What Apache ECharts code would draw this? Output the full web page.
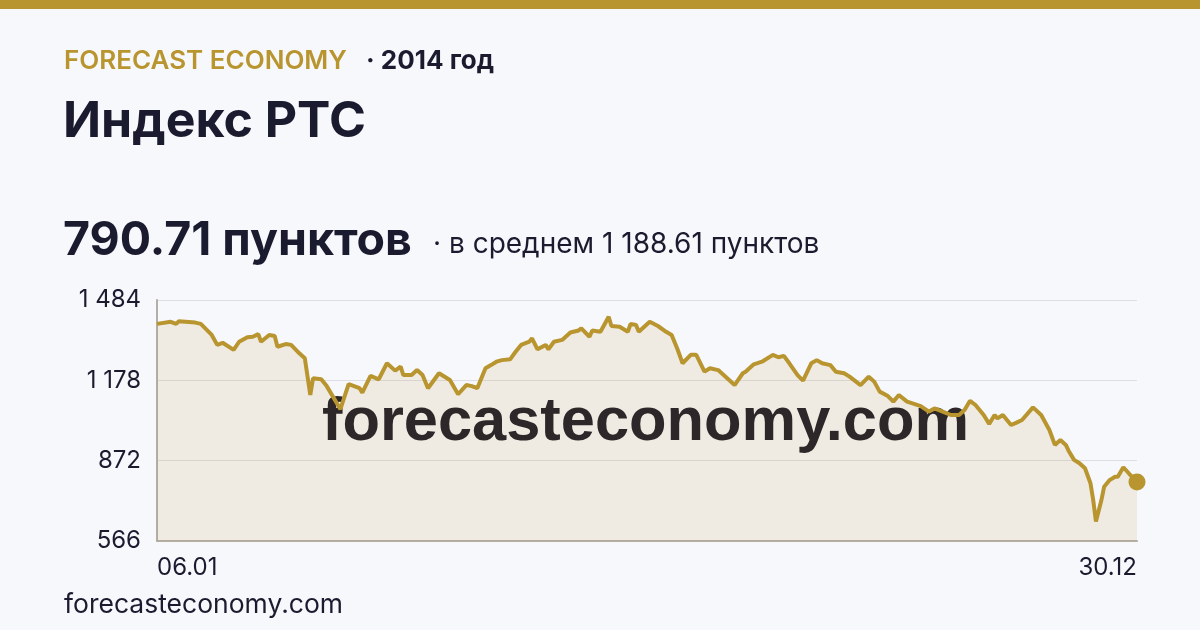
<!DOCTYPE html>
<html>
<head>
<meta charset="utf-8">
<script src="https://cdn.jsdelivr.net/npm/echarts@6/dist/echarts.min.js"></script>
<style>
  html, body { margin: 0; padding: 0; background: #f7f8fc; }
  #chart { width: 1200px; height: 630px; }
</style>
</head>
<body>
<div id="chart"></div>
<script>
const dates = [
  '2014-01-06','2014-01-11','2014-01-13','2014-01-14','2014-01-20','2014-01-22','2014-01-26','2014-01-28','2014-01-30',
  '2014-02-03','2014-02-05','2014-02-08','2014-02-10','2014-02-12','2014-02-13','2014-02-16','2014-02-18','2014-02-19',
  '2014-02-22','2014-02-24','2014-02-27','2014-03-01','2014-03-03','2014-03-04','2014-03-07','2014-03-09','2014-03-14',
  '2014-03-17','2014-03-21','2014-03-22','2014-03-25','2014-03-28','2014-03-31','2014-04-03','2014-04-05','2014-04-06',
  '2014-04-09','2014-04-11','2014-04-13','2014-04-15','2014-04-19','2014-04-23','2014-04-26','2014-04-29','2014-05-01',
  '2014-05-03','2014-05-06','2014-05-08','2014-05-10','2014-05-12','2014-05-15','2014-05-17','2014-05-19','2014-05-22',
  '2014-05-23','2014-05-25','2014-05-28','2014-05-29','2014-05-31','2014-06-03','2014-06-06','2014-06-09','2014-06-10',
  '2014-06-13','2014-06-14','2014-06-17','2014-06-19','2014-06-20','2014-06-21','2014-06-24','2014-06-27','2014-06-28',
  '2014-06-30','2014-07-01','2014-07-05','2014-07-08','2014-07-11','2014-07-13','2014-07-15','2014-07-17','2014-07-20',
  '2014-07-22','2014-07-25','2014-07-27','2014-07-30','2014-08-01','2014-08-05','2014-08-08','2014-08-09','2014-08-12',
  '2014-08-15','2014-08-19','2014-08-21','2014-08-23','2014-08-25','2014-08-28','2014-08-30','2014-09-02','2014-09-04',
  '2014-09-06','2014-09-09','2014-09-11','2014-09-14','2014-09-16','2014-09-20','2014-09-23','2014-09-25','2014-09-27',
  '2014-09-30','2014-10-02','2014-10-04','2014-10-07','2014-10-09','2014-10-12','2014-10-15','2014-10-17','2014-10-20',
  '2014-10-23','2014-10-26','2014-10-28','2014-10-30','2014-11-01','2014-11-04','2014-11-06','2014-11-08','2014-11-09',
  '2014-11-11','2014-11-14','2014-11-16','2014-11-18','2014-11-22','2014-11-25','2014-11-28','2014-11-30','2014-12-02',
  '2014-12-04','2014-12-05','2014-12-07','2014-12-09','2014-12-11','2014-12-13','2014-12-14','2014-12-15','2014-12-17',
  '2014-12-18','2014-12-20','2014-12-22','2014-12-23','2014-12-25','2014-12-27','2014-12-30'
];
const values = [
  1393,1401,1393,1403,1398,1393,1351,1313,1321,
  1294,1325,1342,1344,1354,1325,1351,1347,1306,
  1316,1313,1281,1262,1122,1186,1182,1156,1068,
  1164,1148,1131,1195,1182,1243,1215,1230,1198,
  1198,1217,1198,1148,1205,1179,1125,1160,1156,
  1148,1224,1236,1249,1255,1258,1287,1313,1325,
  1338,1296,1313,1296,1325,1332,1360,1368,1376,
  1344,1368,1363,1401,1420,1385,1382,1363,1393,
  1389,1363,1401,1385,1363,1351,1300,1243,1275,
  1275,1211,1224,1217,1198,1160,1205,1211,1239,
  1249,1275,1266,1271,1243,1198,1177,1243,1255,
  1243,1236,1211,1205,1192,1160,1192,1173,1135,
  1118,1097,1122,1097,1090,1080,1059,1071,1059,
  1046,1046,1065,1100,1084,1046,1012,1046,1033,
  1046,1008,1017,1027,1075,1046,989,932,951,
  932,910,875,862,843,786,722,640,722,
  773,798,811,811,847,824,790.71
];
const yTicks = [566, 872, 1178, 1484];
const xTickLabels = ['06.01', '30.12'];
const xTickDates = ['2014-01-06', '2014-12-30'];

const headerBrand = 'FORECAST ECONOMY';
const headerYear = '· 2014 год';
const titleText = 'Индекс РТС';
const lastText = '790.71 пунктов';
const avgText = '· в среднем 1 188.61 пунктов';
const siteText = 'forecasteconomy.com';

const GOLD = '#b8952e';
const DARK = '#1b1b2f';

function dayIndex(s) {
  const p = s.split('-').map(Number);
  return (Date.UTC(p[0], p[1] - 1, p[2]) - Date.UTC(2014, 0, 1)) / 864e5;
}
const xs = dates.map(dayIndex);
const seriesData = xs.map((x, i) => [x, values[i]]);
const tickXs = xTickDates.map(dayIndex);
const fmtNum = v => String(v).replace(/\B(?=(\d{3})+(?!\d))/g, ' ');

const chart = echarts.init(document.getElementById('chart'), null, { renderer: 'canvas' });
chart.setOption({
  backgroundColor: '#f7f8fc',
  animation: false,
  grid: { left: 157, right: 63, top: 300, bottom: 89, containLabel: false },
  xAxis: {
    type: 'value',
    min: tickXs[0],
    max: tickXs[1],
    axisLine: { show: true, lineStyle: { color: '#b3afa8', width: 2 } },
    axisTick: { show: false },
    splitLine: { show: false },
    axisLabel: {
      customValues: tickXs,
      formatter: v => xTickLabels[tickXs.indexOf(v)] || '',
      color: DARK, fontFamily: 'Inter', fontSize: 24, margin: 15,
      alignMinLabel: 'left', alignMaxLabel: 'right'
    }
  },
  yAxis: {
    type: 'value',
    min: yTicks[0],
    max: yTicks[yTicks.length - 1],
    interval: yTicks[1] - yTicks[0],
    axisLine: { show: true, lineStyle: { color: '#b3afa8', width: 2 } },
    axisTick: { show: false },
    splitLine: { show: true, lineStyle: { color: '#dedee4', width: 1 } },
    axisLabel: {
      formatter: v => fmtNum(v),
      color: DARK, fontFamily: 'Inter', fontSize: 24, margin: 16
    }
  },
  graphic: [
    { type: 'rect', left: 0, top: 0, shape: { width: 1200, height: 9 }, style: { fill: GOLD }, z: 10 },
    { type: 'text', x: 64, y: 61, z: 10, style: { text: headerBrand, fill: GOLD, font: '600 26px Inter', verticalAlign: 'middle' } },
    { type: 'text', x: 366, y: 61, z: 10, style: { text: headerYear, fill: DARK, font: '700 26px Inter', verticalAlign: 'middle' } },
    { type: 'text', x: 63, y: 122, z: 10, style: { text: titleText, fill: DARK, font: '700 50px Inter', verticalAlign: 'middle' } },
    { type: 'text', x: 63, y: 241, z: 10, style: { text: lastText, fill: DARK, font: '700 46.5px Inter', verticalAlign: 'middle' } },
    { type: 'text', x: 433, y: 245, z: 10, style: { text: avgText, fill: DARK, font: '400 28px Inter', verticalAlign: 'middle' } },
    { type: 'text', x: 64, y: 605, z: 10, style: { text: siteText, fill: DARK, font: '400 26.5px Inter', verticalAlign: 'middle' } },
    { type: 'text', x: 645.5, y: 423, z: 3, style: { text: siteText, fill: '#2d2729', font: 'bold 61.4px "Liberation Sans"', align: 'center', verticalAlign: 'middle' } }
  ],
  series: [
    {
      type: 'line',
      data: seriesData,
      showSymbol: false,
      smooth: false,
      lineStyle: { width: 0 },
      areaStyle: { color: GOLD, opacity: 0.12 },
      z: 1,
      silent: true
    },
    {
      type: 'line',
      data: seriesData,
      showSymbol: false,
      smooth: false,
      lineStyle: { color: GOLD, width: 4 },
      z: 5,
      silent: true
    },
    {
      type: 'scatter',
      data: [seriesData[seriesData.length - 1]],
      symbol: 'circle',
      symbolSize: 17,
      itemStyle: { color: GOLD, opacity: 1 },
      z: 6,
      silent: true
    }
  ]
});
</script>
</body>
</html>
